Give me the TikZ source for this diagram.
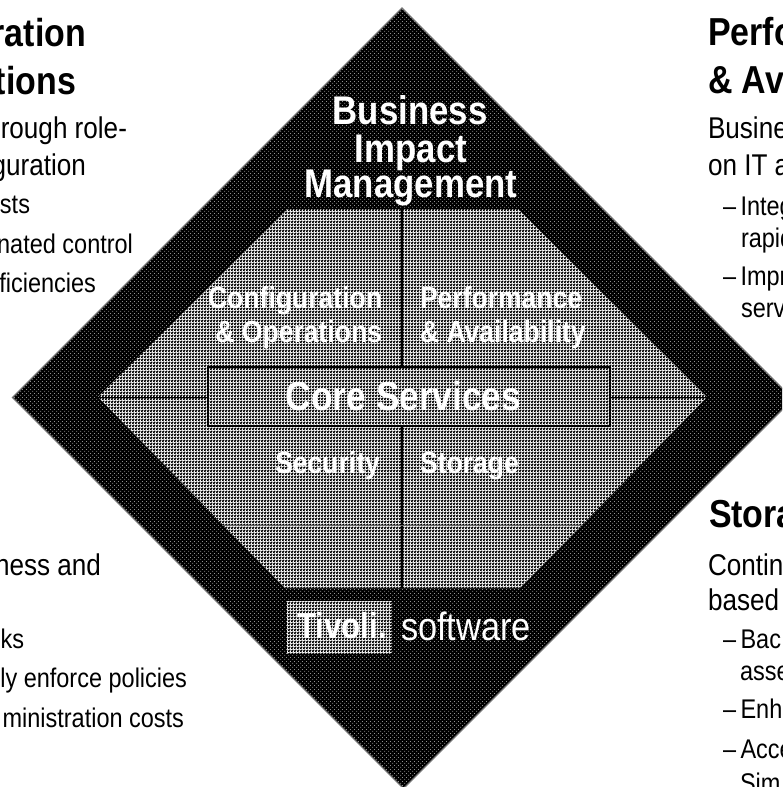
\documentclass[tikz,border=0pt]{standalone}
\usepackage{fontspec}
\usetikzlibrary{patterns}
\setmainfont[FakeStretch=0.87]{Liberation Sans}
\pgfdeclarepatternformonly{greyhatch}{\pgfqpoint{0pt}{0pt}}{\pgfqpoint{3pt}{3pt}}{\pgfqpoint{3pt}{3pt}}{%
  \pgfpathmoveto{\pgfqpoint{0pt}{0pt}}%
  \pgfpathlineto{\pgfqpoint{1.5pt}{0pt}}%
  \pgfpathlineto{\pgfqpoint{3pt}{1.5pt}}%
  \pgfpathlineto{\pgfqpoint{3pt}{3pt}}%
  \pgfpathlineto{\pgfqpoint{1.5pt}{3pt}}%
  \pgfpathlineto{\pgfqpoint{0pt}{1.5pt}}%
  \pgfpathclose
  \pgfusepath{fill}}
\pgfdeclarepatternformonly{darkdots}{\pgfqpoint{0pt}{0pt}}{\pgfqpoint{4pt}{4pt}}{\pgfqpoint{4pt}{4pt}}{%
  \pgfpathcircle{\pgfqpoint{1pt}{1pt}}{0.45pt}%
  \pgfpathcircle{\pgfqpoint{3pt}{3pt}}{0.45pt}%
  \pgfusepath{fill}}
\tikzset{
  x=1pt,y=-1pt,
  every node/.style={inner sep=0pt,outer sep=0pt},
  head/.style={font=\fontsize{39}{39}\selectfont\bfseries,text=black},
  bodyl/.style={font=\fontsize{30}{30}\selectfont,text=black},
  subl/.style={font=\fontsize{27}{27}\selectfont,text=black},
  titlew/.style={font=\fontsize{40}{40}\selectfont\bfseries,text=white,anchor=base},
  quad/.style={font=\fontsize{30.5}{30.5}\selectfont\bfseries,text=white},
  core/.style={font=\fontsize{40.5}{40.5}\selectfont\bfseries,text=white,anchor=base},
  divider/.style={draw=black,line width=2pt},
  hair/.style={draw=black!60,line width=0.5pt},
  darkshade/.style={preaction={fill=black},pattern=darkdots,pattern color=white},
  greyshade/.style={preaction={fill=white},pattern=greyhatch,pattern color=black},
}
\begin{document}
\begin{tikzpicture}
\useasboundingbox (0,0) rectangle (782,787);
\clip (0,0) rectangle (782,787);
\fill[white] (0,0) rectangle (782,787);
% diamond
\draw[draw=black!55,line width=1.2pt,darkshade] (402,8) -- (793,399) -- (403.5,788.5) -- (12.5,397.5) -- cycle;
% grey hexagon
\path[greyshade] (288,209) -- (518,209) -- (707,397) -- (520,588) -- (285,588) -- (98,397) -- cycle;
\node[draw=black,line width=2.5pt,minimum width=402pt,minimum height=59pt] (corebox) at (409,396.5) {};
\coordinate (tipL) at (98,397.5);
\coordinate (tipR) at (707,397.5);
\coordinate (topM) at (402,209);
\coordinate (botM) at (402,588);
\coordinate (hairL) at (222,525);
\coordinate (hairR) at (583,525);
\draw[divider] (topM) -- (topM |- corebox.north);
\draw[divider] (corebox.south -| botM) -- (botM);
\draw[divider,line width=1.6pt] (tipL) -- (tipL -| corebox.west);
\draw[divider,line width=1.6pt] (tipR -| corebox.east) -- (tipR);
\draw[hair] (hairL) -- (hairR);
% centre titles
\node[titlew] (t1) at (410,124) {Business};
\node[titlew] (t2) at (411,162) {Impact};
\node[titlew] (t3) at (411,197) {Management};
\node[quad,anchor=base east] (q1) at (382,308) {Configuration};
\node[quad,anchor=base east] (q2) at (382,342) {\&~Operations};
\node[quad,anchor=base west] (q3) at (420,308) {Performance};
\node[quad,anchor=base west] (q4) at (420,342) {\&~Availability};
\node[quad,anchor=base east] (q5) at (380,473) {Security};
\node[quad,anchor=base west] (q6) at (420,473) {Storage};
\node[core] (cs) at (403.5,410) {Core Services};
% Tivoli
\node[greyshade,minimum width=105pt,minimum height=53pt] (tb) at (339.5,627.5) {};
\node[font=\fontsize{36}{36}\selectfont\bfseries,text=white,anchor=base west] (tv) at (297,638) {Tivoli.};
\node[font=\fontsize{39.5}{39.5}\selectfont,text=white,anchor=base west] (sw) at (401,640.5) {software};
% left text
\node[head,anchor=base east] (l1) at (86,46) {ration};
\node[head,anchor=base east] (l2) at (76,94) {tions};
\node[bodyl,anchor=base east] (l3) at (127,138) {rough role-};
\node[bodyl,anchor=base east] (l4) at (86,175) {guration};
\node[subl,anchor=base east] (l5) at (30,213) {sts};
\node[subl,anchor=base east] (l6) at (133,253) {nated control};
\node[subl,anchor=base east] (l7) at (96,292) {ficiencies};
\node[bodyl,anchor=base east] (l8) at (101,575) {ness and};
\node[subl,anchor=base east] (l9) at (24,648) {ks};
\node[subl,anchor=base east] (l10) at (187,687) {ly enforce policies};
\node[subl,anchor=base east] (l11) at (184,727) {ministration costs};
% right text
\node[head,anchor=base west] (r1) at (708,45) {Perfo};
\node[head,anchor=base west] (r2) at (708,93) {\& Av};
\node[bodyl,anchor=base west] (r3) at (708,138) {Busine};
\node[bodyl,anchor=base west] (r4) at (708,175) {on IT a};
\node[subl,anchor=base west] (r5) at (723,215) {--\,Integ};
\node[subl,anchor=base west] (r6) at (741,247) {rapid};
\node[subl,anchor=base west] (r7) at (723,285) {--\,Impr};
\node[subl,anchor=base west] (r8) at (741,317) {serv};
\node[head,anchor=base west] (r9) at (709,527) {Stora};
\node[bodyl,anchor=base west] (r10) at (708,575) {Contin};
\node[bodyl,anchor=base west] (r11) at (708,610) {based};
\node[subl,anchor=base west] (r12) at (723,648) {--\,Bac};
\node[subl,anchor=base west] (r13) at (740,680) {asse};
\node[subl,anchor=base west] (r14) at (723,718) {--\,Enh};
\node[subl,anchor=base west] (r15) at (723,758) {--\,Acce};
\node[subl,anchor=base west] (r16) at (740,792) {Sim};
\end{tikzpicture}
\end{document}
